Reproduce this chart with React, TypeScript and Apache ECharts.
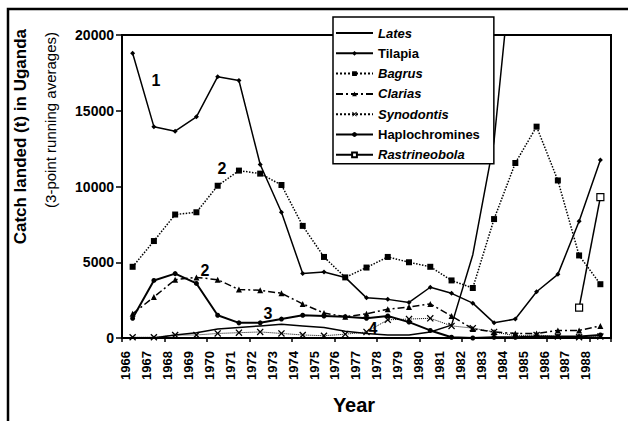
import React, { useEffect, useRef } from 'react';
import * as echarts from 'echarts';

const years = ['1966', '1967', '1968', '1969', '1970', '1971', '1972', '1973', '1974', '1975', '1976', '1977', '1978', '1979', '1980', '1981', '1982', '1983', '1984', '1985', '1986', '1987', '1988'];

const yTicks = { min: 0, max: 20000, interval: 5000 };

const lates = [0, 0, 200, 350, 600, 700, 800, 900, 800, 700, 450, 300, 200, 200, 400, 850, 5500, 13000, 27000, null, null, null, null];
const tilapia = [18800, 13950, 13650, 14600, 17250, 17000, 11450, 8300, 4250, 4350, 4000, 2650, 2550, 2350, 3350, 2950, 2300, 1000, 1250, 3050, 4200, 7700, 11750];
const bagrus = [4700, 6400, 8150, 8300, 10050, 11050, 10850, 10100, 7400, 5350, 4000, 4650, 5350, 5000, 4700, 3800, 3300, 7850, 11550, 13950, 10400, 5450, 3550];
const clarias = [1600, 2700, 3850, 4000, 3850, 3200, 3150, 2950, 2250, 1650, 1400, 1600, 1900, 2050, 2250, 1450, 600, 400, 300, 300, 500, 500, 800];
const synodontis = [50, 50, 200, 200, 300, 350, 400, 300, 200, 150, 250, 400, 1200, 1250, 1300, 800, 650, 400, 150, 200, 100, 50, 100];
const haplochromines = [1300, 3800, 4250, 3600, 1500, 1000, 1000, 1250, 1500, 1450, 1400, 1300, 1450, 1050, 500, 50, 0, 50, 50, 100, 100, 100, 200];
const rastrineobola = [null, null, null, null, null, null, null, null, null, null, null, null, null, null, null, null, null, null, null, null, null, 2000, 9300];

const seriesNames = ['Lates', 'Tilapia', 'Bagrus', 'Clarias', 'Synodontis', 'Haplochromines', 'Rastrineobola'];
const italicNames = ['Lates', 'Bagrus', 'Clarias', 'Synodontis', 'Rastrineobola'];

const annotations = [
  { text: '1', x: 156, y: 80 },
  { text: '2', x: 222, y: 168 },
  { text: '2', x: 205, y: 270 },
  { text: '3', x: 268, y: 313 },
  { text: '4', x: 373, y: 328 },
];

const FONT = '"Liberation Sans", Arial, Helvetica, sans-serif';
const X_SYMBOL = 'path://M0,1.3L1.3,0L5,3.7L8.7,0L10,1.3L6.3,5L10,8.7L8.7,10L5,6.3L1.3,10L0,8.7L3.7,5Z';

export default function App() {
  const ref = useRef<HTMLDivElement>(null);
  useEffect(() => {
    const chart = echarts.init(ref.current as HTMLDivElement, null, { renderer: 'svg' });
    const black = '#000';
    const mk = (name: string, data: any[], extra: any) => ({
      name,
      type: 'line',
      data,
      silent: true,
      emphasis: { disabled: true },
      connectNulls: false,
      xAxisIndex: 0,
      yAxisIndex: 0,
      z: 3,
      ...extra,
    });
    chart.setOption({
      animation: false,
      backgroundColor: '#fff',
      textStyle: { fontFamily: FONT },
      grid: [
        { left: 122, top: 35, right: 17, bottom: 83, show: true, borderColor: black, borderWidth: 2, backgroundColor: 'transparent' },
        { left: 115.5, top: 35, right: 31.7, bottom: 83, show: false },
      ],
      xAxis: [
        {
          type: 'category',
          gridIndex: 0,
          data: years,
          boundaryGap: true,
          axisLine: { lineStyle: { color: black, width: 2 } },
          axisTick: { show: true, length: 4, lineStyle: { color: black, width: 1.5 } },
          axisLabel: { show: false },
          splitLine: { show: false },
        },
        {
          type: 'category',
          gridIndex: 1,
          data: years,
          boundaryGap: true,
          axisLine: { show: false },
          axisTick: { show: false },
          axisLabel: { rotate: 90, interval: 0, margin: 13, color: black, fontWeight: 'bold', fontSize: 13, fontFamily: FONT },
          splitLine: { show: false },
        },
      ],
      yAxis: [
        {
          type: 'value',
          gridIndex: 0,
          min: yTicks.min,
          max: yTicks.max,
          interval: yTicks.interval,
          axisLine: { show: true, lineStyle: { color: black, width: 2 } },
          axisTick: { show: true, length: 6, lineStyle: { color: black, width: 1.5 } },
          axisLabel: { color: black, fontWeight: 'bold', fontSize: 14, margin: 8, fontFamily: FONT, formatter: (v: number) => String(v) },
          splitLine: { show: false },
        },
        { type: 'value', gridIndex: 1, show: false, min: yTicks.min, max: yTicks.max, splitLine: { show: false } },
      ],
      legend: {
        orient: 'vertical',
        left: 333,
        top: 17,
        padding: [8, 14, 1, 2],
        itemWidth: 37,
        itemHeight: 6,
        itemGap: 4.3,
        backgroundColor: '#fff',
        borderColor: black,
        borderWidth: 1.5,
        z: 10,
        data: seriesNames.map((n) => (n === 'Lates' ? { name: n, itemStyle: { opacity: 0 } } : { name: n })),
        formatter: (name: string) => (italicNames.includes(name) ? `{i|${name}}` : `{n|${name}}`),
        textStyle: {
          fontSize: 13,
          fontWeight: 'bold',
          color: black,
          lineHeight: 16,
          fontFamily: FONT,
          rich: {
            i: { fontSize: 13, fontWeight: 'bold', fontStyle: 'italic', color: black, lineHeight: 16, fontFamily: FONT },
            n: { fontSize: 13, fontWeight: 'bold', color: black, lineHeight: 16, fontFamily: FONT },
          },
        },
      },
      series: [
        mk('Lates', lates, { symbol: 'none', itemStyle: { color: black }, lineStyle: { color: black, width: 1.5 } }),
        mk('Tilapia', tilapia, { symbol: 'diamond', symbolSize: 5, itemStyle: { color: black }, lineStyle: { color: black, width: 1.5 } }),
        mk('Bagrus', bagrus, { symbol: 'rect', symbolSize: 6, itemStyle: { color: black }, lineStyle: { color: black, width: 1.5, type: 'dotted' } }),
        mk('Clarias', clarias, { symbol: 'triangle', symbolSize: 6, itemStyle: { color: black }, lineStyle: { color: black, width: 1.5, type: [7, 3, 2, 3] } }),
        mk('Synodontis', synodontis, { symbol: X_SYMBOL, symbolSize: 7, itemStyle: { color: black }, lineStyle: { color: black, width: 1, type: 'dotted' } }),
        mk('Haplochromines', haplochromines, { symbol: 'circle', symbolSize: 5, itemStyle: { color: black }, lineStyle: { color: black, width: 2 } }),
        mk('Rastrineobola', rastrineobola, { symbol: 'rect', symbolSize: 7, itemStyle: { color: '#fff', borderColor: black, borderWidth: 1.2 }, lineStyle: { color: black, width: 1.5 } }),
      ],
      graphic: [
        { type: 'rect', shape: { x: 8, y: 9, width: 700, height: 500 }, style: { fill: 'none', stroke: black, lineWidth: 2.5 }, silent: true, z: 0 },
        {
          type: 'text', x: 20, y: 29, rotation: Math.PI / 2, silent: true,
          style: { text: 'Catch landed (t) in Uganda', fontSize: 17, fontWeight: 'bold', fontFamily: FONT, fill: black, align: 'right', verticalAlign: 'middle' },
        },
        {
          type: 'text', x: 50, y: 32, rotation: Math.PI / 2, silent: true,
          style: { text: '(3-point running averages)', fontSize: 15, fontFamily: FONT, fill: black, align: 'right', verticalAlign: 'middle' },
        },
        {
          type: 'text', x: 354, y: 405, silent: true,
          style: { text: 'Year', fontSize: 20, fontWeight: 'bold', fontFamily: FONT, fill: black, align: 'center', verticalAlign: 'middle' },
        },
        ...annotations.map((a) => ({
          type: 'text', x: a.x, y: a.y, silent: true, z: 5,
          style: { text: a.text, fontSize: 16, fontWeight: 'bold', fontFamily: FONT, fill: black, align: 'center', verticalAlign: 'middle' },
        })),
      ],
    });
    return () => chart.dispose();
  }, []);
  return <div ref={ref} style={{ position: 'fixed', left: 0, top: 0, width: 628, height: 421 }} />;
}
